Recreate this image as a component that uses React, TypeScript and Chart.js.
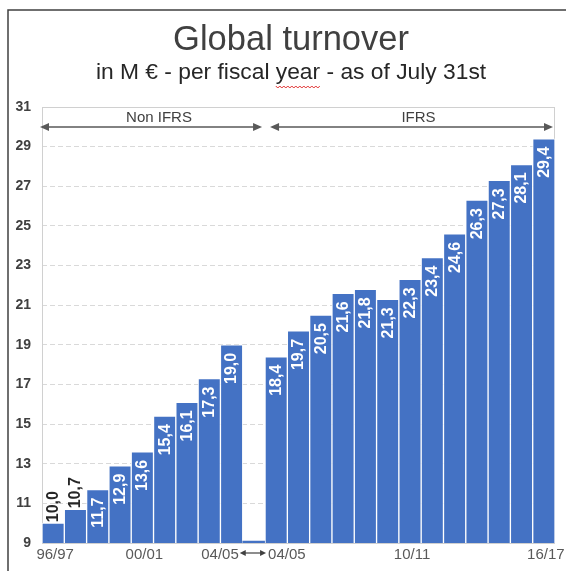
import React, { useEffect, useRef } from "react";
import { Chart, registerables } from "chart.js";

Chart.register(...registerables);

const categories = [
  "96/97", "97/98", "98/99", "99/00", "00/01", "01/02", "02/03", "03/04", "04/05",
  "",
  "04/05", "05/06", "06/07", "07/08", "08/09", "09/10", "10/11", "11/12", "12/13",
  "13/14", "14/15", "15/16", "16/17",
];
const turnover = [
  10.0, 10.7, 11.7, 12.9, 13.6, 15.4, 16.1, 17.3, 19.0,
  9.1,
  18.4, 19.7, 20.5, 21.6, 21.8, 21.3, 22.3, 23.4, 24.6, 26.3, 27.3, 28.1, 29.4,
];
const gapIndex = 9;
const shownTicks = [0, 4, 8, 10, 16, 22];
const yMin = 9;
const yMax = 31;
const yStep = 2;
const titleText = "Global turnover";
const subtitleText = "in M € - per fiscal year - as of July 31st";
const underlinedWord = "year";
const periodLabels = ["Non IFRS", "IFRS"];

const FONT = "Arial, 'Liberation Sans', sans-serif";
const BAR_COLOR = "#4472C4";

function arrow(ctx: CanvasRenderingContext2D, x1: number, x2: number, y: number, head: number, half: number) {
  ctx.beginPath();
  ctx.moveTo(x1 + head - 1, y);
  ctx.lineTo(x2 - head + 1, y);
  ctx.stroke();
  ctx.beginPath();
  ctx.moveTo(x1, y);
  ctx.lineTo(x1 + head, y - half);
  ctx.lineTo(x1 + head, y + half);
  ctx.closePath();
  ctx.fill();
  ctx.beginPath();
  ctx.moveTo(x2, y);
  ctx.lineTo(x2 - head, y - half);
  ctx.lineTo(x2 - head, y + half);
  ctx.closePath();
  ctx.fill();
}

const decorPlugin = {
  id: "decor",
  beforeDatasetsDraw(chart: any) {
    const { ctx, chartArea } = chart;
    ctx.save();
    ctx.strokeStyle = "#d0d0d0";
    ctx.lineWidth = 1;
    ctx.strokeRect(chartArea.left + 0.5, chartArea.top + 0.5, chartArea.right - chartArea.left - 1, chartArea.bottom - chartArea.top);
    ctx.restore();
  },
  afterDraw(chart: any) {
    const { ctx, chartArea, width } = chart;
    const x = chart.scales.x;
    const meta = chart.getDatasetMeta(0);
    const catW = (chartArea.right - chartArea.left) / categories.length;

    ctx.save();
    // outer frame
    ctx.strokeStyle = "#404040";
    ctx.lineWidth = 1.5;
    ctx.beginPath();
    ctx.moveTo(8, chart.height);
    ctx.lineTo(8, 10);
    ctx.lineTo(width, 10);
    ctx.stroke();

    // titles
    ctx.fillStyle = "#404040";
    ctx.textAlign = "center";
    ctx.textBaseline = "alphabetic";
    ctx.font = `34.5px ${FONT}`;
    ctx.fillText(titleText, 291, 50);
    ctx.fillStyle = "#262626";
    ctx.font = `22.8px ${FONT}`;
    ctx.fillText(subtitleText, 291, 79);
    // red wavy underline (spell-check mark)
    const fullW = ctx.measureText(subtitleText).width;
    const idx = subtitleText.indexOf(underlinedWord);
    const preW = ctx.measureText(subtitleText.slice(0, idx)).width;
    const wordW = ctx.measureText(underlinedWord).width;
    const ux = 291 - fullW / 2 + preW;
    ctx.strokeStyle = "#e03030";
    ctx.lineWidth = 1;
    ctx.beginPath();
    for (let px = 0; px <= wordW; px += 2) {
      const yy = 86 + ((px / 2) % 2 === 0 ? 0 : 2);
      if (px === 0) ctx.moveTo(ux + px, yy);
      else ctx.lineTo(ux + px, yy);
    }
    ctx.stroke();

    // period arrows
    ctx.strokeStyle = "#595959";
    ctx.fillStyle = "#595959";
    ctx.lineWidth = 1.5;
    const ay = chartArea.top + 20;
    const l1 = chartArea.left - 2;
    const r1 = x.getPixelForValue(gapIndex) + catW / 2 - 3;
    const l2 = x.getPixelForValue(gapIndex + 1) - catW / 2 + 5;
    const r2 = chartArea.right - 2;
    arrow(ctx, l1, r1, ay, 9, 4);
    arrow(ctx, l2, r2, ay, 9, 4);
    ctx.fillStyle = "#404040";
    ctx.font = `15px ${FONT}`;
    ctx.textAlign = "center";
    ctx.fillText(periodLabels[0], (l1 + r1) / 2 + 8, chartArea.top + 15);
    ctx.fillText(periodLabels[1], (l2 + r2) / 2 + 7, chartArea.top + 15);

    // x labels
    ctx.fillStyle = "#595959";
    ctx.font = `15px ${FONT}`;
    ctx.textBaseline = "middle";
    const ly = chartArea.bottom + 12;
    let leftEnd = 0;
    let rightStart = 0;
    shownTicks.forEach((i) => {
      const cx = x.getPixelForValue(i);
      if (i === gapIndex - 1) {
        ctx.textAlign = "right";
        leftEnd = cx + catW / 2 - 4;
        ctx.fillText(categories[i], leftEnd, ly);
      } else if (i === gapIndex + 1) {
        ctx.textAlign = "left";
        rightStart = cx - catW / 2 + 3;
        ctx.fillText(categories[i], rightStart, ly);
      } else {
        ctx.textAlign = "center";
        ctx.fillText(categories[i], cx + 2, ly);
      }
    });
    ctx.strokeStyle = "#404040";
    ctx.fillStyle = "#404040";
    ctx.lineWidth = 1.2;
    arrow(ctx, leftEnd + 1, rightStart - 2, ly - 2, 6, 3);

    // value labels
    ctx.font = `bold 16px ${FONT}`;
    ctx.textBaseline = "middle";
    meta.data.forEach((bar: any, i: number) => {
      if (i === gapIndex) return;
      const txt = turnover[i].toFixed(1).replace(".", ",");
      const tw = ctx.measureText(txt).width;
      const h = chartArea.bottom - bar.y;
      ctx.save();
      ctx.translate(bar.x + 0.5, bar.y);
      ctx.rotate(-Math.PI / 2);
      if (h < tw + 10) {
        ctx.fillStyle = "#262626";
        ctx.textAlign = "left";
        ctx.fillText(txt, 1, 0);
      } else {
        ctx.fillStyle = "#ffffff";
        ctx.textAlign = "right";
        ctx.fillText(txt, -8, 0);
      }
      ctx.restore();
    });
    ctx.restore();
  },
};

export default function App() {
  const ref = useRef<HTMLCanvasElement | null>(null);
  useEffect(() => {
    if (!ref.current) return;
    const chart = new Chart(ref.current, {
      type: "bar",
      data: {
        labels: categories,
        datasets: [
          {
            data: turnover,
            backgroundColor: BAR_COLOR,
            borderColor: "rgba(255,255,255,0.85)",
            borderWidth: turnover.map((_, i) => (i === gapIndex ? 0 : 1)),
            barPercentage: 1,
            categoryPercentage: 1,
          },
        ],
      },
      options: {
        responsive: false,
        animation: false,
        events: [],
        layout: { padding: { top: 107, right: 11, left: 0, bottom: 0 } },
        plugins: { legend: { display: false }, tooltip: { enabled: false }, title: { display: false } },
        scales: {
          x: {
            grid: { display: false },
            border: { display: false },
            ticks: { display: false },
            afterFit: (s: any) => {
              s.height = 28;
            },
          },
          y: {
            min: yMin,
            max: yMax,
            ticks: {
              stepSize: yStep,
              color: "#404040",
              font: { family: FONT, size: 14, weight: "bold" },
              padding: 11,
            },
            grid: { color: "#d9d9d9", drawTicks: false, lineWidth: 1 },
            border: { display: false, dash: [5, 3] },
            afterFit: (s: any) => {
              s.width = 42;
            },
          },
        },
      },
      plugins: [decorPlugin],
    });
    return () => chart.destroy();
  }, []);
  return (
    <div style={{ position: "fixed", left: 0, top: 0, width: 566, height: 571, background: "#fff" }}>
      <canvas ref={ref} width={566} height={571} style={{ display: "block" }} />
    </div>
  );
}
